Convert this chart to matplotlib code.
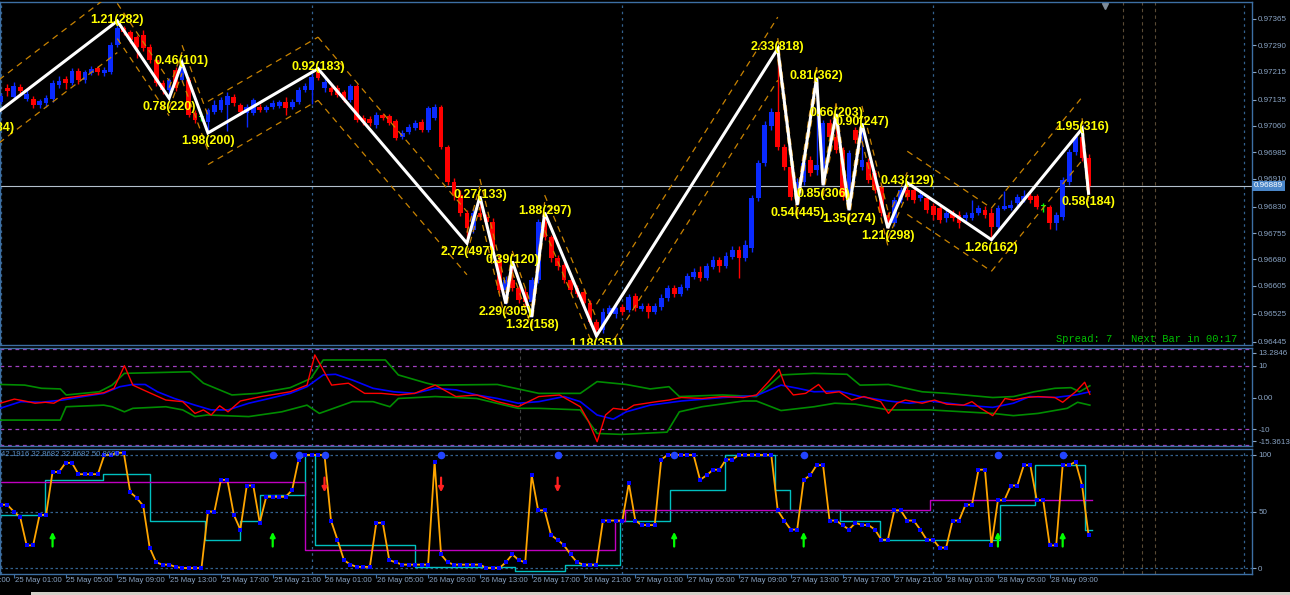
import numpy as np
import matplotlib.pyplot as plt
import matplotlib.transforms as mtransforms
from matplotlib.patches import Rectangle

plt.rcParams['font.family'] = ['Liberation Sans', 'DejaVu Sans']

# M30 candles, prices in points (1e-5); bar 0 = 25 May 01:00, first bar = -4
first_bar = -4
opens = [
    97111, 97094, 97128, 97168, 97143, 97171, 97137, 97137, 97120, 97125,
    97137, 97177, 97194, 97182, 97217, 97191, 97211, 97225, 97211, 97214,
    97291, 97339, 97328, 97314, 97319, 97285, 97248, 97182, 97162, 97220,
    97191, 97191, 97097, 97086, 97071, 97100, 97106, 97120, 97143, 97120,
    97097, 97097, 97114, 97106, 97114, 97117, 97128, 97114, 97128, 97162,
    97162, 97214, 97168, 97168, 97168, 97157, 97134, 97174, 97083, 97080,
    97063, 97091, 97088, 97074, 97029, 97043, 97054, 97071, 97049, 97083,
    97114, 97000, 96900, 96863, 96812, 96764, 96812, 96801, 96786, 96678,
    96593, 96621, 96598, 96587, 96558, 96621, 96786, 96744, 96684, 96664,
    96621, 96598, 96587, 96555, 96501, 96479, 96524, 96524, 96544, 96536,
    96575, 96538, 96547, 96530, 96544, 96570, 96598, 96581, 96598, 96630,
    96644, 96627, 96658, 96678, 96661, 96687, 96707, 96684, 96712, 96855,
    96954, 97060, 97100, 97000, 96943, 96863, 96900, 96963, 96935, 96897,
    97068, 97029, 96992, 96858, 97049, 96943, 96957, 96926, 96886, 96806,
    96783, 96849, 96878, 96878, 96855, 96855, 96832, 96826, 96798, 96812,
    96806, 96798, 96798, 96812, 96821, 96812, 96772, 96823, 96826, 96840,
    96849, 96860, 96860, 96832, 96829, 96783, 96801, 96900, 96986, 97029,
    96969]
closes = [
    97094, 97128, 97145, 97160, 97174, 97160, 97151, 97120, 97131, 97140,
    97182, 97188, 97182, 97217, 97191, 97214, 97222, 97214, 97220, 97291,
    97339, 97328, 97305, 97285, 97282, 97248, 97182, 97162, 97191, 97168,
    97231, 97091, 97077, 97086, 97106, 97120, 97134, 97145, 97125, 97100,
    97114, 97134, 97106, 97114, 97125, 97128, 97111, 97128, 97162, 97174,
    97200, 97197, 97185, 97157, 97148, 97134, 97174, 97077, 97071, 97068,
    97091, 97083, 97068, 97026, 97040, 97057, 97068, 97049, 97111, 97114,
    97000, 96900, 96863, 96812, 96769, 96812, 96801, 96786, 96707, 96593,
    96621, 96598, 96564, 96558, 96621, 96786, 96744, 96684, 96661, 96621,
    96593, 96581, 96555, 96501, 96479, 96530, 96541, 96541, 96530, 96573,
    96541, 96547, 96530, 96547, 96570, 96598, 96581, 96601, 96632, 96644,
    96627, 96661, 96678, 96661, 96689, 96707, 96684, 96721, 96855, 96954,
    97063, 97100, 97000, 96943, 96858, 96900, 96954, 96926, 96949, 97068,
    97029, 96992, 96858, 96983, 97020, 96963, 96906, 96878, 96812, 96783,
    96849, 96878, 96858, 96849, 96863, 96821, 96806, 96792, 96812, 96798,
    96783, 96806, 96812, 96826, 96806, 96772, 96826, 96832, 96835, 96858,
    96860, 96849, 96829, 96832, 96783, 96806, 96906, 96986, 97029, 96969,
    96889]
highs = [
    97123, 97134, 97154, 97180, 97185, 97180, 97162, 97145, 97137, 97148,
    97191, 97202, 97202, 97225, 97225, 97220, 97231, 97231, 97228, 97299,
    97359, 97345, 97334, 97319, 97334, 97294, 97254, 97191, 97197, 97228,
    97240, 97200, 97106, 97100, 97111, 97134, 97143, 97157, 97151, 97125,
    97123, 97140, 97123, 97120, 97134, 97134, 97143, 97137, 97171, 97182,
    97211, 97223, 97197, 97174, 97177, 97162, 97180, 97180, 97091, 97088,
    97100, 97097, 97094, 97080, 97049, 97066, 97077, 97080, 97117, 97123,
    97120, 97006, 96912, 96878, 96821, 96826, 96859, 96809, 96798, 96692,
    96632, 96674, 96607, 96598, 96630, 96795, 96813, 96749, 96692, 96672,
    96630, 96607, 96595, 96564, 96510, 96541, 96550, 96555, 96553, 96581,
    96584, 96555, 96555, 96555, 96581, 96607, 96607, 96610, 96641, 96655,
    96661, 96669, 96689, 96687, 96701, 96718, 96718, 96735, 96863, 96963,
    97074, 97111, 97280, 97009, 96952, 96912, 96963, 96974, 97197, 97077,
    97080, 97094, 97000, 96992, 97057, 97067, 96969, 96935, 96895, 96815,
    96858, 96886, 96898, 96886, 96878, 96863, 96840, 96838, 96826, 96821,
    96818, 96815, 96849, 96835, 96832, 96826, 96835, 96875, 96849, 96866,
    96878, 96869, 96866, 96840, 96835, 96815, 96915, 96994, 97037, 97052,
    96980]
lows = [
    97077, 97088, 97123, 97145, 97137, 97151, 97131, 97111, 97111, 97114,
    97128, 97168, 97165, 97177, 97180, 97182, 97205, 97205, 97202, 97208,
    97285, 97319, 97296, 97254, 97274, 97239, 97174, 97151, 97139, 97160,
    97185, 97086, 97068, 97074, 97040, 97094, 97100, 97046, 97117, 97091,
    97057, 97091, 97100, 97100, 97108, 97111, 97091, 97108, 97123, 97157,
    97123, 97191, 97157, 97148, 97143, 97128, 97128, 97071, 97063, 97060,
    97054, 97077, 97063, 97020, 97023, 97037, 97049, 97043, 97043, 97077,
    96994, 96892, 96849, 96803, 96726, 96755, 96792, 96769, 96695, 96584,
    96554, 96590, 96555, 96547, 96516, 96612, 96735, 96672, 96650, 96612,
    96584, 96573, 96547, 96493, 96462, 96470, 96518, 96513, 96521, 96530,
    96533, 96533, 96513, 96524, 96536, 96561, 96573, 96575, 96593, 96624,
    96618, 96621, 96652, 96644, 96655, 96681, 96627, 96675, 96701, 96846,
    96946, 97049, 96992, 96935, 96849, 96835, 96892, 96917, 96920, 96891,
    97020, 96983, 96849, 96820, 97011, 96935, 96897, 96869, 96803, 96769,
    96775, 96840, 96849, 96840, 96846, 96812, 96792, 96783, 96786, 96789,
    96769, 96789, 96792, 96806, 96798, 96736, 96764, 96821, 96821, 96832,
    96843, 96840, 96823, 96815, 96766, 96764, 96792, 96892, 96977, 96960,
    96868]

# zigzag pivots
zz_bars = [-4, 16, 24, 26, 30, 47, 70, 72, 76, 77, 80, 82, 90, 118, 121, 124,
           125, 127, 129, 131, 135, 138, 151, 165, 166]
zz_points = [97077, 97359, 97139, 97240, 97040, 97223, 96726, 96859, 96554,
             96674, 96516, 96813, 96462, 97280, 96835, 97197, 96891, 97094,
             96820, 97067, 96769, 96898, 96736, 97052, 96868]
zz_labels = ['1.34(384)', '1.21(282)', '0.78(220)', '0.46(101)', '1.98(200)',
             '0.92(183)', '2.72(497)', '0.27(133)', '2.29(305)', '0.39(120)',
             '1.32(158)', '1.88(297)', '1.18(351)', '2.33(818)', '0.54(445)',
             '0.81(362)', '0.85(306)', '0.66(203)', '1.35(274)', '0.90(247)',
             '1.21(298)', '0.43(129)', '1.26(162)', '1.95(316)', '0.58(184)']

price_ticks = [0.97365, 0.97290, 0.97215, 0.97135, 0.97060, 0.96985, 0.96910,
               0.96830, 0.96755, 0.96680, 0.96605, 0.96525, 0.96445]
last_price = 0.96889

time_labels = ['24 May 21:00', '25 May 01:00', '25 May 05:00', '25 May 09:00',
               '25 May 13:00', '25 May 17:00', '25 May 21:00', '26 May 01:00',
               '26 May 05:00', '26 May 09:00', '26 May 13:00', '26 May 17:00',
               '26 May 21:00', '27 May 01:00', '27 May 05:00', '27 May 09:00',
               '27 May 13:00', '27 May 17:00', '27 May 21:00', '28 May 01:00',
               '28 May 05:00', '28 May 09:00']
day_starts = [-2, 46, 94, 142, 190]

# oscillator window (bar, value)
osc_red = [(-2.1, -1.8), (0.1, -0.5), (1.7, -1.1), (3.3, -1.8), (4.9, -1.5), (6.2, -1.8),
           (7.5, -0.3), (10.7, 0.6), (13.9, 1.5), (15.5, 2.9), (17.1, 10.0), (18.4, 3.9),
           (20.0, 2.4), (23.5, -0.8), (26.1, -1.3), (28.0, -5.0), (29.3, -3.9), (30.5, -5.5),
           (31.8, -2.6), (33.1, -4.5), (35.0, -1.1), (38.2, 0.3), (42.7, 1.8), (45.3, 3.9),
           (46.5, 13.4), (49.1, 3.9), (51.7, 4.5), (54.2, 1.3), (56.8, 1.3), (59.4, 0.8),
           (61.9, 1.3), (65.1, 3.9), (68.3, 0.3), (71.5, 0.8), (74.7, -1.3), (77.9, -2.9),
           (81.1, 0.3), (84.3, 0.8), (87.5, -2.9), (88.8, -7.6), (90.1, -13.9), (91.4, -5.5),
           (92.6, -3.4), (94.6, -3.9), (95.8, -2.4), (99.3, -1.3), (101.2, -0.8), (103.1, 0.0),
           (106.3, -0.3), (109.5, 0.3), (112.7, 0.0), (114.7, 0.8), (116.6, 5.0), (118.2, 8.9),
           (119.1, 3.9), (120.4, 0.8), (122.3, 1.3), (124.3, 4.1), (125.5, 1.3), (127.5, 1.8),
           (129.4, -0.8), (131.3, 0.3), (133.9, -1.3), (135.1, -5.0), (136.4, -1.8), (137.7, -0.8),
           (140.3, -1.8), (142.2, -0.8), (144.1, -2.1), (146.7, -2.4), (148.0, -1.3), (149.2, -3.2),
           (151.2, -5.7), (153.1, -0.3), (154.4, -0.8), (156.3, 0.0), (158.2, 0.3), (160.8, 0.0),
           (162.0, -1.5), (164.0, 1.8), (165.4, 4.8), (166.2, 1.0)]
osc_blue = [(-2.1, -3.4), (1.1, -1.3), (4.3, -1.5), (7.5, -0.8), (10.7, 0.3), (13.9, 1.3),
            (16.4, 3.4), (18.4, 4.1), (20.3, 4.1), (22.2, 1.8), (24.8, -0.3), (28.0, -2.4),
            (30.5, -3.9), (33.1, -3.9), (36.3, -1.8), (39.5, -0.3), (42.7, 1.3), (45.3, 3.4),
            (47.8, 7.1), (49.7, 7.3), (52.3, 5.5), (55.5, 2.9), (58.7, 1.8), (61.9, 1.3),
            (65.1, 2.9), (68.3, 2.4), (71.5, 0.8), (74.7, -0.3), (77.9, -1.8), (81.1, -1.3),
            (85.0, 0.3), (87.5, -1.3), (90.1, -5.5), (92.6, -6.8), (94.6, -4.5), (98.3, -2.4),
            (103.1, -1.1), (109.5, 0.0), (114.7, 0.6), (118.5, 3.9), (121.1, 2.9), (123.6, 1.8),
            (127.5, 2.0), (130.7, 0.3), (135.1, -1.1), (138.3, -1.8), (141.5, -1.1), (146.7, -2.4),
            (151.2, -3.1), (154.4, -1.8), (156.9, 0.3), (160.8, 0.0), (164.0, 0.8), (166.2, 1.8)]
band_up = [(-2.1, 4.1), (1.7, 3.9), (4.3, 2.9), (7.2, 2.7), (8.1, 0.8), (13.2, 1.8), (15.2, 3.9),
           (17.1, 7.6), (27.3, 8.1), (29.3, 4.5), (33.7, 0.8), (37.6, 1.3), (42.7, 3.1), (45.9, 6.0),
           (47.8, 11.8), (57.4, 11.8), (59.4, 7.1), (63.8, 4.5), (65.1, 3.9), (74.7, 4.1), (78.6, 2.4),
           (81.1, 1.3), (87.5, 1.3), (90.1, 5.0), (94.6, 4.1), (98.3, 2.7), (101.2, 3.4), (102.8, 0.3),
           (109.5, 0.8), (114.7, 0.3), (118.5, 7.1), (123.6, 7.6), (128.7, 7.3), (130.7, 3.9),
           (135.1, 4.1), (140.3, 1.8), (144.1, 1.3), (151.2, 0.0), (154.4, 0.3), (157.6, 1.8),
           (160.8, 2.9), (163.3, 3.1), (164.6, 1.8), (166.2, 3.7)]
band_dn = [(-2.1, -7.1), (7.2, -7.1), (8.1, -2.9), (13.9, -2.4), (15.2, -2.9), (17.1, -4.5),
           (18.4, -3.4), (23.5, -2.9), (26.1, -3.9), (28.0, -6.0), (29.9, -5.5), (36.3, -6.0),
           (41.4, -4.5), (45.3, -2.4), (47.2, -5.0), (52.3, -1.3), (55.5, -1.3), (58.1, -2.9),
           (59.4, -0.3), (65.1, 0.3), (71.5, -0.3), (77.9, -3.4), (81.1, -3.4), (87.5, -3.9),
           (90.1, -11.3), (93.9, -11.6), (100.9, -10.9), (102.8, -4.5), (106.3, -2.9), (112.7, -1.1),
           (114.7, -1.1), (118.5, -4.1), (123.6, -2.9), (126.8, -1.8), (130.0, -2.1), (135.1, -3.9),
           (141.5, -3.9), (146.7, -4.5), (151.2, -5.0), (154.4, -5.7), (158.2, -5.0), (162.7, -3.4),
           (164.3, -1.5), (166.2, -2.4)]

# stochastic window, one value per bar from bar -2
stoch_first = -2
stoch = [
    56, 56, 50, 45, 20, 20, 47, 47, 85, 85,
    93, 93, 83, 83, 83, 83, 100, 100, 102, 102,
    67, 62, 55, 18, 5, 3, 3, 1, 0, 0,
    0, 0, 50, 50, 78, 78, 47, 34, 73, 73,
    40, 63, 63, 63, 63, 69, 96, 100, 100, 100,
    100, 42, 25, 7, 3, 1, 1, 1, 40, 40,
    7, 5, 3, 3, 3, 3, 3, 94, 12, 5,
    3, 3, 3, 3, 3, 0, 0, 0, 5, 12,
    7, 5, 82, 51, 51, 29, 25, 20, 12, 5,
    3, 3, 3, 42, 42, 42, 42, 75, 42, 38,
    38, 38, 96, 100, 100, 100, 100, 100, 78, 82,
    87, 87, 96, 96, 100, 100, 100, 100, 100, 100,
    51, 42, 34, 34, 78, 82, 91, 91, 42, 42,
    38, 34, 40, 38, 38, 34, 25, 25, 51, 51,
    42, 42, 34, 25, 25, 18, 18, 42, 42, 56,
    56, 87, 87, 20, 60, 60, 73, 73, 91, 91,
    60, 60, 20, 20, 91, 91, 94, 73, 29]
stoch_cyan = [(-2.1, 47), (4.8, 78), (13.8, 83), (21.0, 42), (29.5, 25), (34.9, 42), (38.0, 65),
              (45.0, 100), (46.5, 20), (62.0, 1), (77.4, -3), (85.1, 3), (93.6, 42), (101.4, 69),
              (109.9, 100), (117.6, 69), (119.9, 51), (127.6, 42), (133.8, 25), (152.3, 56),
              (157.7, 91), (165.4, 34), (166.5, 34)]
stoch_magenta = [(-2.1, 76), (45.0, 16), (92.8, 42), (94.4, 51), (141.5, 60), (166.5, 60)]
buy_arrows = [6, 40, 102, 122, 152, 162]
sell_arrows = [48, 66, 84]
top_dots = [40, 44, 48, 66, 84, 102, 122, 152, 162]

FRAME = '#3d6fa3'
GRID = '#33618f'
TXT = '#8aa4c4'
UP, DN, DOJI = '#0a2aff', '#ff0000', '#00ff00'

W, H = 1290, 595
def box(x0, y0, x1, y1):
    return [x0 / W, 1 - y1 / H, (x1 - x0) / W, (y1 - y0) / H]

fig = plt.figure(figsize=(12.9, 5.95), dpi=100, facecolor='black')
ax1 = fig.add_axes(box(0, 2, 1252, 345))
ax2 = fig.add_axes(box(0, 348, 1252, 446), sharex=ax1)
ax3 = fig.add_axes(box(0, 449, 1252, 574), sharex=ax1)

for ax in (ax1, ax2, ax3):
    ax.set_facecolor('black')
    for s in ax.spines.values():
        s.set_color(FRAME)
        s.set_linewidth(1.0)
    ax.yaxis.tick_right()
    ax.tick_params(axis='y', colors=TXT, labelsize=5.8, length=3, width=0.8, pad=1.5)
    ax.tick_params(axis='x', bottom=False, labelbottom=False)
    for b in day_starts:
        ax.axvline(b, color=GRID, ls=(0, (2, 3)), lw=0.9, zorder=0)
    for b in (171.3, 174.3, 176.3):
        ax.axvline(b, color='#5a4a35', ls=(0, (3, 3)), lw=0.8, zorder=0)

# ---- price window ----
o = np.array(opens) / 1e5
c = np.array(closes) / 1e5
hi = np.array(highs) / 1e5
lo = np.array(lows) / 1e5
x = np.arange(first_bar, first_bar + len(o))
col = np.where(c > o, UP, np.where(c < o, DN, DOJI))
ax1.vlines(x, lo, hi, colors=list(col), lw=1, zorder=2)
ax1.bar(x, np.maximum(np.abs(c - o), 0.00003), bottom=np.minimum(o, c), width=0.74,
        color=list(col), lw=0, zorder=3)

ax1.axhline(last_price, color='#b4c0cc', lw=0.8, zorder=1)

zp = np.array(zz_points) / 1e5
# channel lines around each zigzag leg
for i in range(len(zz_bars) - 1):
    b0, b1 = zz_bars[i], zz_bars[i + 1]
    n = b1 - b0
    d = 0.0009 if n >= 10 else (0.0005 if n >= 4 else 0.0003)
    for sgn in (1, -1):
        ax1.plot([b0, b1], [zp[i] + sgn * d, zp[i + 1] + sgn * d], color='#c98300',
                 lw=0.9, ls=(0, (5, 4)), zorder=4)

ax1.plot(zz_bars, zp, color='white', lw=2.2, zorder=6, solid_joinstyle='miter')

for i, (b, p, t) in enumerate(zip(zz_bars, zp, zz_labels)):
    ref = zp[i + 1] if i + 1 < len(zp) else zp[i - 1]
    dy = 1 if p > ref else -6
    tr = mtransforms.offset_copy(ax1.transData, fig=fig, x=0, y=dy, units='points')
    ax1.text(b, p, t, transform=tr, ha='center', va='center', color='#ffff00',
             fontsize=9, fontweight='bold', zorder=7, clip_on=True)

ax1.set_ylim(0.96436, 0.97413)
ax1.set_yticks(price_ticks)
ax1.set_yticklabels([f'{p:.5f}' for p in price_ticks])
bt = mtransforms.blended_transform_factory(ax1.transAxes, ax1.transData)
ax1.text(1.0015, last_price, f'{last_price:.5f}', transform=bt, ha='left', va='center',
         color='white', fontsize=5.8, zorder=10, clip_on=False,
         bbox=dict(boxstyle='square,pad=0.2', fc='#4a86c8', ec='none'))
ax1.text(0.8435, 0.018, 'Spread: 7   Next Bar in 00:17', transform=ax1.transAxes,
         family='Liberation Mono', fontsize=7.5, color='#00c000', va='center', clip_on=True)
ax1.plot([168.5], [0.97403], marker='v', color='#7f8c99', ms=5)

# ---- oscillator window ----
for pts, colr, lw in ((band_up, '#008c00', 1.2), (band_dn, '#008c00', 1.2),
                      (osc_blue, '#0000ff', 1.2), (osc_red, '#ff0000', 1.0)):
    a = np.array(pts)
    ax2.plot(a[:, 0], a[:, 1], color=colr, lw=lw, zorder=3)
for lv in (15.25, 10, -10, -14.95):
    ax2.axhline(lv, color='#a040c0', ls=(0, (3, 3)), lw=0.9, zorder=1)
ax2.axvline(78.2, color='#404040', ls=(0, (3, 3)), lw=0.8, zorder=0)
ax2.set_ylim(-15.25, 15.57)
ax2.set_yticks([14.0, 10, 0, -10, -13.8])
ax2.set_yticklabels(['13.2846', '10', '0.00', '-10', '-15.3613'])

# ---- stochastic window ----
for lv in (100, 50, 0):
    ax3.axhline(lv, color=GRID, ls=(0, (2, 2)), lw=0.9, zorder=0)
cy = np.array(stoch_cyan)
ax3.step(cy[:, 0], cy[:, 1], where='post', color='#00c0c0', lw=1, zorder=2)
mg = np.array(stoch_magenta)
ax3.step(mg[:, 0], mg[:, 1], where='post', color='#c000c0', lw=1, zorder=2)
sx = np.arange(stoch_first, stoch_first + len(stoch))
ax3.plot(sx, stoch, color='#ffa500', lw=1.3, zorder=3)
ax3.scatter(sx, stoch, s=7, marker='s', color='#0000ff', lw=0, zorder=4)
ax3.scatter(top_dots, [100] * len(top_dots), s=30, color='#2244ff', lw=0, zorder=5)
for b in buy_arrows:
    ax3.annotate('', xy=(b, 32), xytext=(b, 19),
                 arrowprops=dict(arrowstyle='-|>', color='#00ff00', lw=1.6,
                                 mutation_scale=7, shrinkA=0, shrinkB=0))
for b in sell_arrows:
    ax3.annotate('', xy=(b, 67), xytext=(b, 80),
                 arrowprops=dict(arrowstyle='-|>', color='#ff2020', lw=1.6,
                                 mutation_scale=7, shrinkA=0, shrinkB=0))
bt3 = mtransforms.blended_transform_factory(ax3.transAxes, ax3.transData)
ax3.text(0.001, 100, '42.1916 32.8682 32.8682 50.8600', transform=bt3, fontsize=5.6,
         color='#5b8fc7', va='center', zorder=6)
ax3.set_ylim(-5.3, 105.3)
ax3.set_yticks([100, 50, 0])
ax3.set_yticklabels(['100', '50', '0'])

time_bars = np.arange(-8, -8 + 8 * len(time_labels), 8)
ax3.set_xticks(time_bars)
ax3.tick_params(axis='x', bottom=True, labelbottom=False, colors=FRAME, length=3, width=0.8)
bx = mtransforms.blended_transform_factory(ax3.transData, ax3.transAxes)
for b, t in zip(time_bars, time_labels):
    ax3.text(b + 0.15, -0.05, t, transform=bx, ha='left', va='center', fontsize=5.6, color=TXT)
ax1.set_xlim(-2.116, 191.24)

fig.add_artist(Rectangle((31 / W, 0), 1 - 31 / W, 3 / H, transform=fig.transFigure,
                         color='#d4d0c8', lw=0))

fig.savefig('out.png', dpi=100, facecolor='black')
